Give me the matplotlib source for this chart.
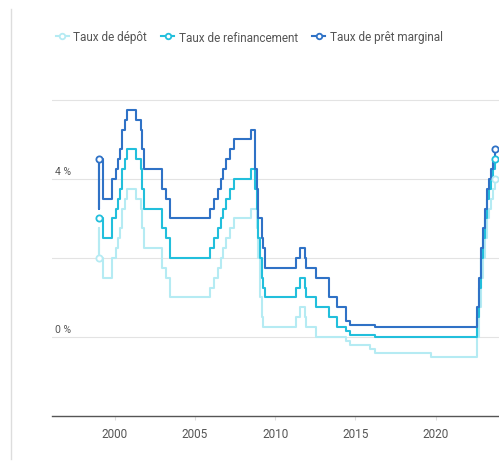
import numpy as np
import matplotlib
matplotlib.use('Agg')
import matplotlib.pyplot as plt
from matplotlib.lines import Line2D
import pandas as pd

plt.rcParams['font.family'] = ['Roboto', 'DejaVu Sans']

# dates of ECB rate decisions (effective dates)
dates = ['1999-01-01', '1999-01-04', '1999-01-22', '1999-04-09', '1999-11-05',
         '2000-02-04', '2000-03-17', '2000-04-28', '2000-06-09', '2000-09-01',
         '2000-10-06', '2001-05-11', '2001-08-31', '2001-09-18', '2001-11-09',
         '2002-12-06', '2003-03-07', '2003-06-06', '2005-12-06', '2006-03-08',
         '2006-06-15', '2006-08-09', '2006-10-11', '2006-12-13', '2007-03-14',
         '2007-06-13', '2008-07-09', '2008-10-09', '2008-11-12', '2008-12-10',
         '2009-01-21', '2009-03-11', '2009-04-08', '2009-05-13', '2011-04-13',
         '2011-07-13', '2011-11-09', '2011-12-14', '2012-07-11', '2013-05-08',
         '2013-11-13', '2014-06-11', '2014-09-10', '2015-12-09', '2016-03-16',
         '2019-09-18', '2022-07-27', '2022-09-14', '2022-11-02', '2022-12-21',
         '2023-02-08', '2023-03-22', '2023-05-10', '2023-06-21', '2023-08-02',
         '2023-09-20']
depot = [2.00, 2.75, 2.00, 1.50, 2.00, 2.25, 2.50, 2.75, 3.25, 3.50,
         3.75, 3.50, 3.25, 2.75, 2.25, 1.75, 1.50, 1.00, 1.25, 1.50,
         1.75, 2.00, 2.25, 2.50, 2.75, 3.00, 3.25, 3.25, 2.75, 2.00,
         1.00, 0.50, 0.25, 0.25, 0.50, 0.75, 0.50, 0.25, 0.00, 0.00,
         0.00, -0.10, -0.20, -0.30, -0.40, -0.50, 0.00, 0.75, 1.50, 2.00,
         2.50, 3.00, 3.25, 3.50, 3.75, 4.00]
refi = [3.00, 3.00, 3.00, 2.50, 3.00, 3.25, 3.50, 3.75, 4.25, 4.50,
        4.75, 4.50, 4.25, 3.75, 3.25, 2.75, 2.50, 2.00, 2.25, 2.50,
        2.75, 3.00, 3.25, 3.50, 3.75, 4.00, 4.25, 3.75, 3.25, 2.50,
        2.00, 1.50, 1.25, 1.00, 1.25, 1.50, 1.25, 1.00, 0.75, 0.50,
        0.25, 0.15, 0.05, 0.05, 0.00, 0.00, 0.50, 1.25, 2.00, 2.50,
        3.00, 3.50, 3.75, 4.00, 4.25, 4.50]
marginal = [4.50, 3.25, 4.50, 3.50, 4.00, 4.25, 4.50, 4.75, 5.25, 5.50,
            5.75, 5.50, 5.25, 4.75, 4.25, 3.75, 3.50, 3.00, 3.25, 3.50,
            3.75, 4.00, 4.25, 4.50, 4.75, 5.00, 5.25, 4.25, 3.75, 3.00,
            3.00, 2.50, 2.25, 1.75, 2.00, 2.25, 2.00, 1.75, 1.50, 1.00,
            0.75, 0.40, 0.30, 0.30, 0.25, 0.25, 0.75, 1.50, 2.25, 2.75,
            3.25, 3.75, 4.00, 4.25, 4.50, 4.75]
labels = ['Taux de dépôt', 'Taux de refinancement', 'Taux de prêt marginal']
couleurs = ['#b5ebf3', '#22bfdc', '#2f72c6']

d = pd.to_datetime(dates)
x = np.array(d.year + (d.dayofyear - 1) / 365.25)

fig = plt.figure(figsize=(4.99, 4.64), dpi=100)
ax = fig.add_axes([52/499, 47/464, 447/499, (417-93)/464])

for serie, c in zip([depot, refi, marginal], couleurs):
    ax.step(x, serie, where='post', color=c, lw=1.5, zorder=3)
    ax.plot([x[0], x[-1]], [serie[0], serie[-1]], 'o', ms=4.5, mfc='white',
            mec=c, mew=1.3, zorder=4)

ax.set_xlim(1996.1, 2023.95)
ax.set_ylim(-2, 6.2)
for v in [0, 2, 4, 6]:
    ax.axhline(v, color='#e3e3e3', lw=0.8, zorder=1)
for v in [0, 4]:
    ax.text(0.006, v + 0.08, '%d %%' % v, transform=ax.get_yaxis_transform(),
            fontsize=7.5, color='#555555', va='bottom', ha='left')

ax.set_yticks([])
for s in ['top', 'right', 'left']:
    ax.spines[s].set_visible(False)
ax.spines['bottom'].set_color('#555555')
ax.spines['bottom'].set_linewidth(1.0)
ax.set_xticks([2000, 2005, 2010, 2015, 2020])
ax.set_xticklabels(['2000', '2005', '2010', '2015', '2020'])
ax.tick_params(axis='x', length=3, color='#dddddd', labelsize=8.5,
               labelcolor='#555555', pad=5)

handles = [Line2D([], [], color=c, lw=1.5, marker='o', ms=4, mfc='white',
                  mec=c, mew=1.3) for c in couleurs]
fig.legend(handles, labels, loc='center left', bbox_to_anchor=(52/499, 1 - 38/464),
           ncol=3, frameon=False, fontsize=8.5, handlelength=1.1,
           handletextpad=0.4, columnspacing=1.2, labelcolor='#555555',
           borderaxespad=0, borderpad=0.3)

fig.add_artist(Line2D([11/499, 11/499], [4/464, 1 - 10/464], color='#dddddd', lw=1))

fig.savefig('out.png', dpi=100)
